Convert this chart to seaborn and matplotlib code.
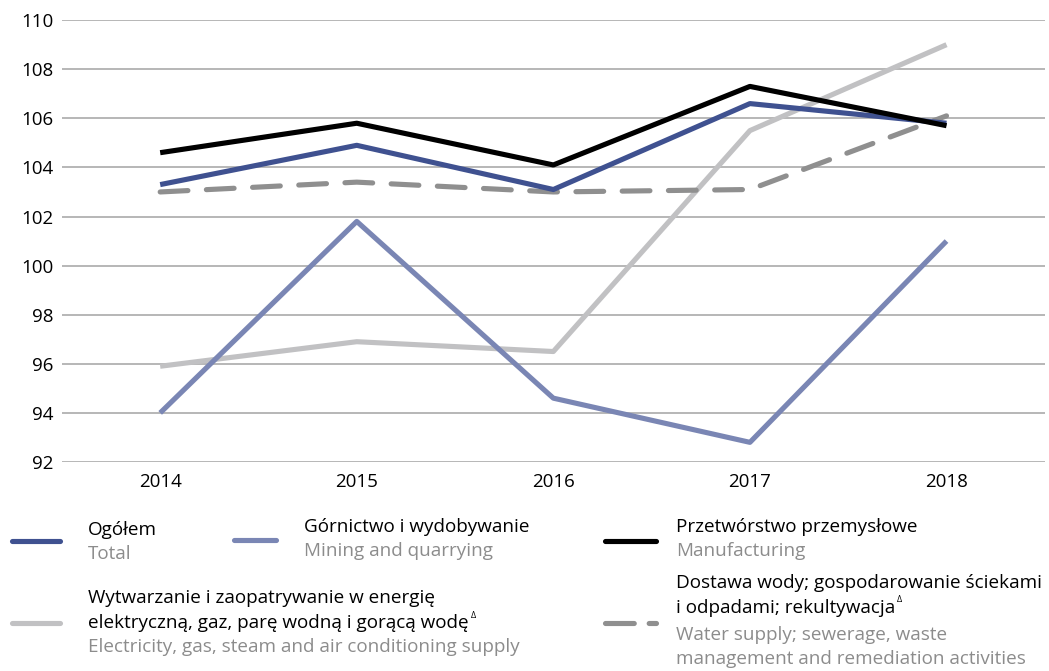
import pandas as pd
import matplotlib.pyplot as plt
import seaborn as sns
from matplotlib.lines import Line2D

# DATA
years = [2014, 2015, 2016, 2017, 2018]
total = [103.3, 104.9, 103.1, 106.6, 105.8]
mining = [94.0, 101.8, 94.6, 92.8, 101.0]
manufacturing = [104.6, 105.8, 104.1, 107.3, 105.7]
energy = [95.9, 96.9, 96.5, 105.5, 109.0]
water = [103.0, 103.4, 103.0, 103.1, 106.1]

series_names = ["total", "mining", "manufacturing", "energy", "water"]
series_values = [total, mining, manufacturing, energy, water]

y_ticks = [92, 94, 96, 98, 100, 102, 104, 106, 108, 110]

colors = {"total": "#3f5190", "mining": "#7a86b4", "manufacturing": "#000000",
          "energy": "#c1c1c3", "water": "#8f8f8f"}

# long dataframe for seaborn
rows = []
for name, vals in zip(series_names, series_values):
    for yr, v in zip(years, vals):
        rows.append({"year": yr, "value": v, "series": name})
df = pd.DataFrame(rows)

sns.set_style("white")
plt.rcParams["font.family"] = ["Open Sans", "DejaVu Sans"]

fig = plt.figure(figsize=(10.49, 6.71), dpi=100)
ax = fig.add_axes([0.059, 0.3115, 0.937, 0.6585])

# draw order: energy and water behind the others
order = ["energy", "water", "mining", "total", "manufacturing"]
for name in order:
    sub = df[df.series == name]
    sns.lineplot(data=sub, x="year", y="value", ax=ax, color=colors[name],
                 linewidth=3.7, solid_capstyle="butt", dash_capstyle="round",
                 legend=False, errorbar=None,
                 linestyle="--" if name == "water" else "-")
    if name == "water":
        ax.lines[-1].set_dashes((5.4, 3.6))

ax.set_xlim(2013.5, 2018.5)
ax.set_ylim(92, 110)
ax.set_xticks(years)
ax.set_xticklabels([str(y) for y in years])
ax.set_yticks(y_ticks)
ax.set_yticklabels([str(t) for t in y_ticks])
ax.yaxis.grid(True, color="#a3a3a3", linewidth=1.1)
ax.set_axisbelow(True)
for s in ax.spines.values():
    s.set_visible(False)
ax.tick_params(axis="both", length=0, labelsize=13.5, colors="#000000", pad=8)
ax.tick_params(axis="y", pad=6)
ax.set_xlabel("")
ax.set_ylabel("")

# custom two-language legend
W, H = 1049.0, 671.0
def fx(px):
    return px / W
def fy(py):
    return 1 - py / H

def handle(x0, x1, y, color, dashed=False):
    ln = Line2D([fx(x0), fx(x1)], [fy(y), fy(y)], transform=fig.transFigure,
                color=color, linewidth=3.7, solid_capstyle="round",
                dash_capstyle="round")
    if dashed:
        ln.set_dashes((5.6, 2.9))
    fig.add_artist(ln)

renderer = fig.canvas.get_renderer()

def label(x, y, s, color, delta=False):
    t = fig.text(fx(x), fy(y), s, color=color, fontsize=13.6, va="center", ha="left")
    if delta:
        bb = t.get_window_extent(renderer=renderer)
        fig.text(bb.x1 / fig.dpi / fig.get_figwidth() + 0.002, fy(y - 8), "Δ",
                 color=color, fontsize=6.5, va="center", ha="left")

dark = "#000000"
grey = "#8c8c8c"

handle(12, 60, 541, colors["total"])
label(88, 530, "Ogółem", dark)
label(88, 554, "Total", grey)

handle(234, 276, 540, colors["mining"])
label(304, 527, "Górnictwo i wydobywanie", dark)
label(304, 551, "Mining and quarrying", grey)

handle(605, 656, 541, colors["manufacturing"])
label(676, 527, "Przetwórstwo przemysłowe", dark)
label(676, 551, "Manufacturing", grey)

handle(12, 60, 623, colors["energy"])
label(88, 598, "Wytwarzanie i zaopatrywanie w energię", dark)
label(88, 623, "elektryczną, gaz, parę wodną i gorącą wodę", dark, delta=True)
label(88, 647, "Electricity, gas, steam and air conditioning supply", grey)

handle(605, 656, 623, colors["water"], dashed=True)
label(676, 583, "Dostawa wody; gospodarowanie ściekami", dark)
label(676, 608, "i odpadami; rekultywacja", dark, delta=True)
label(676, 635, "Water supply; sewerage, waste", grey)
label(676, 659, "management and remediation activities", grey)

fig.savefig("out.png", dpi=100)
